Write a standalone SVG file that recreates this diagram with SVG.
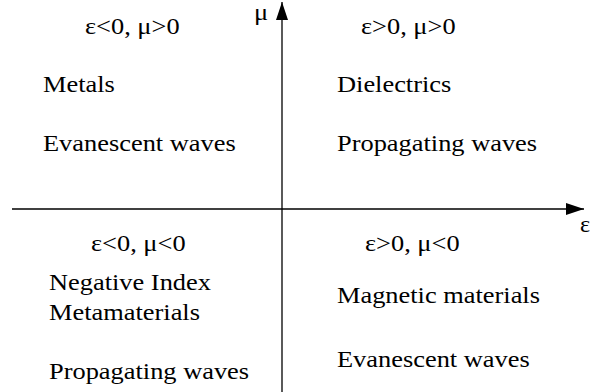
<svg xmlns="http://www.w3.org/2000/svg" width="591" height="392" viewBox="0 0 591 392">
<style>
text{font-family:"Liberation Serif","Times New Roman",serif;font-size:24px;fill:#000}
.ax{stroke:#000;stroke-width:1.3;fill:none}
</style>
<defs>
<marker id="ah" viewBox="0 0 18 12" refX="18" refY="6" markerWidth="18" markerHeight="12" markerUnits="userSpaceOnUse" orient="auto">
<path d="M0,0 L18,6 L0,12 Z" fill="#000"/>
</marker>
</defs>
<rect width="591" height="392" fill="#fff"/>
<g id="connectors">
<line class="ax" x1="12" y1="209" x2="584" y2="209" marker-end="url(#ah)"/>
<line class="ax" x1="282" y1="392" x2="282" y2="2" marker-end="url(#ah)"/>
</g>
<g id="axis-labels">
<text transform="translate(254,20) scale(1.1,1)">μ</text>
<text transform="translate(580,232)">ε</text>
</g>
<g id="q-top-left">
<text transform="translate(85,34) scale(1.1,1)">ε&lt;0, μ&gt;0</text>
<text transform="translate(43,92) scale(1.1,1)">Metals</text>
<text transform="translate(43,151) scale(1.1,1)">Evanescent waves</text>
</g>
<g id="q-top-right">
<text transform="translate(361,34) scale(1.1,1)">ε&gt;0, μ&gt;0</text>
<text transform="translate(337,92) scale(1.1,1)">Dielectrics</text>
<text transform="translate(337,151) scale(1.1,1)">Propagating waves</text>
</g>
<g id="q-bottom-left">
<text transform="translate(91,251) scale(1.1,1)">ε&lt;0, μ&lt;0</text>
<text transform="translate(49,290) scale(1.1,1)">Negative Index</text>
<text transform="translate(49,320) scale(1.1,1)">Metamaterials</text>
<text transform="translate(49,379) scale(1.1,1)">Propagating waves</text>
</g>
<g id="q-bottom-right">
<text transform="translate(365,251) scale(1.1,1)">ε&gt;0, μ&lt;0</text>
<text transform="translate(337,303) scale(1.1,1)">Magnetic materials</text>
<text transform="translate(337,367) scale(1.1,1)">Evanescent waves</text>
</g>
</svg>
